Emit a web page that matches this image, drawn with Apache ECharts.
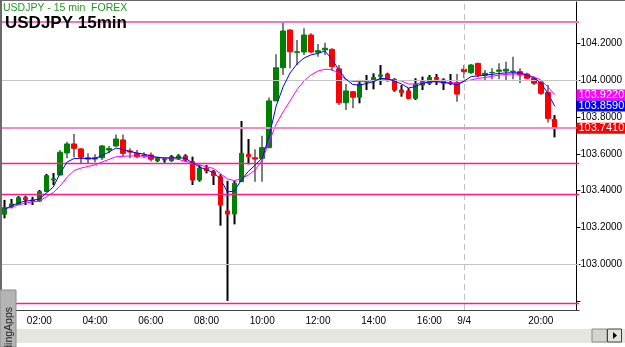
<!DOCTYPE html>
<html><head><meta charset="utf-8">
<script src="https://cdn.jsdelivr.net/npm/echarts@6/dist/echarts.min.js"></script>
<style>html,body{margin:0;padding:0;background:#fff}#c{width:625px;height:347px}</style>
</head><body><div id="c"></div>
<script>
// 15-minute bars, 00:45 .. 21:15 (the 17:15 slot carries the day-break label "9/4")
const categories = ['00:45','01:00','01:15','01:30','01:45','02:00','02:15','02:30','02:45','03:00','03:15','03:30','03:45','04:00','04:15','04:30','04:45','05:00','05:15','05:30','05:45','06:00','06:15','06:30','06:45','07:00','07:15','07:30','07:45','08:00','08:15','08:30','08:45','09:00','09:15','09:30','09:45','10:00','10:15','10:30','10:45','11:00','11:15','11:30','11:45','12:00','12:15','12:30','12:45','13:00','13:15','13:30','13:45','14:00','14:15','14:30','14:45','15:00','15:15','15:30','15:45','16:00','16:15','16:30','16:45','17:00','9/4','17:30','17:45','18:00','18:15','18:30','18:45','19:00','19:15','19:30','19:45','20:00','20:15','20:30','20:45','21:00','21:15'];
const labelTimes = ['02:00','04:00','06:00','08:00','10:00','12:00','14:00','16:00','9/4','20:00'];
const tickTimes = ['02:00','04:00','06:00','08:00','10:00','12:00','14:00','16:00','18:00','20:00'];

const opens = [103.272,103.311,103.326,103.362,103.350,103.344,103.395,103.458,103.485,103.605,103.654,103.627,103.579,103.572,103.579,103.621,103.643,103.676,103.616,103.603,103.594,103.594,103.563,103.567,103.563,103.576,103.589,103.558,103.458,103.522,103.503,103.476,103.290,103.273,103.449,103.598,103.579,103.576,103.634,103.888,104.068,104.273,104.152,104.154,104.246,104.152,104.165,104.168,104.062,103.878,103.938,103.908,103.991,103.996,104.022,104.034,104.005,103.947,103.942,103.902,103.974,103.984,104.016,104.002,103.987,103.987,104.060,104.041,104.092,104.027,104.041,104.049,104.050,104.047,104.047,104.034,104.011,103.989,103.933,103.788];
const closes = [103.308,103.328,103.362,103.351,103.344,103.395,103.482,103.464,103.609,103.654,103.630,103.582,103.572,103.579,103.643,103.629,103.681,103.603,103.610,103.585,103.591,103.571,103.576,103.570,103.585,103.589,103.567,103.458,103.522,103.509,103.482,103.322,103.273,103.440,103.603,103.585,103.572,103.634,103.888,104.068,104.268,104.155,104.155,104.246,104.154,104.161,104.174,104.074,103.878,103.942,103.908,103.980,103.996,104.016,104.029,104.005,103.947,103.933,103.902,103.978,103.993,104.016,104.005,103.984,103.984,103.925,104.047,104.083,104.029,104.038,104.043,104.056,104.060,104.050,104.029,104.011,103.984,103.929,103.793,103.741];
const lows = [103.250,103.304,103.322,103.322,103.322,103.340,103.395,103.431,103.485,103.576,103.582,103.549,103.549,103.554,103.567,103.603,103.639,103.585,103.576,103.576,103.576,103.558,103.556,103.552,103.558,103.567,103.558,103.431,103.449,103.494,103.431,103.210,102.801,103.217,103.449,103.543,103.449,103.449,103.630,103.888,104.029,104.065,104.083,104.138,104.147,104.128,104.138,104.050,103.866,103.839,103.848,103.875,103.947,103.951,103.974,103.993,103.938,103.911,103.897,103.893,103.947,103.974,103.974,103.947,103.974,103.884,104.011,104.034,104.016,104.002,104.005,104.005,104.002,104.005,103.984,104.005,103.974,103.920,103.770,103.690];
const highs = [103.350,103.355,103.371,103.373,103.367,103.404,103.491,103.496,103.621,103.666,103.708,103.630,103.603,103.598,103.648,103.643,103.706,103.706,103.630,103.621,103.609,103.607,103.585,103.579,103.594,103.598,103.598,103.585,103.540,103.540,103.513,103.489,103.454,103.454,103.779,103.681,103.625,103.699,103.906,104.141,104.318,104.277,104.219,104.283,104.255,104.197,104.204,104.174,104.083,103.980,103.942,104.002,104.029,104.038,104.083,104.041,104.011,103.974,103.957,104.011,104.020,104.029,104.034,104.011,104.034,104.034,104.083,104.089,104.096,104.056,104.065,104.092,104.101,104.128,104.065,104.041,104.020,104.002,103.974,103.811];
const maFast = [103.300,103.317,103.333,103.344,103.347,103.355,103.387,103.420,103.496,103.556,103.575,103.576,103.574,103.575,103.591,103.610,103.632,103.624,103.613,103.605,103.599,103.589,103.580,103.578,103.578,103.580,103.575,103.551,103.529,103.513,103.499,103.464,103.393,103.398,103.458,103.504,103.540,103.578,103.697,103.860,103.964,104.040,104.089,104.121,104.138,104.146,104.159,104.116,104.056,104.007,103.977,103.974,103.983,103.993,104.011,104.007,103.996,103.980,103.958,103.966,103.983,103.991,103.993,103.988,103.984,103.974,103.996,104.021,104.023,104.029,104.032,104.037,104.040,104.041,104.040,104.029,104.012,103.985,103.931,103.859];
const maSlow = [103.300,103.311,103.322,103.333,103.339,103.344,103.366,103.390,103.426,103.474,103.510,103.523,103.532,103.540,103.556,103.570,103.584,103.587,103.589,103.589,103.587,103.585,103.580,103.578,103.576,103.570,103.559,103.551,103.540,103.530,103.521,103.493,103.464,103.455,103.464,103.485,103.513,103.567,103.665,103.762,103.828,103.888,103.950,103.996,104.029,104.050,104.060,104.059,104.034,104.004,103.994,103.993,103.993,103.999,104.006,104.005,104.002,103.996,103.980,103.980,103.988,103.991,103.993,103.991,103.987,103.984,103.994,104.002,104.010,104.015,104.022,104.028,104.032,104.034,104.034,104.030,104.018,104.002,103.964,103.922];

const levelLines = [104.317, 103.741, 103.552, 103.380, 102.791];
const gridValues = [104.0, 103.0];
const yLabelValues = [103.0, 103.2, 103.4, 103.6, 103.8, 104.0, 104.2];
const yTickValues = [102.8, 103.0, 103.2, 103.4, 103.6, 103.8, 104.0, 104.2];
const tagValues = [103.922, 103.859, 103.741];
const dayBreak = '9/4';

const levelColors = ['#f27ab9', '#f48cc4', '#ff1a8c', '#ff1a8c', '#ff1a8c'];
const levelWidths = [2, 2, 1.3, 1.3, 1.3];
const tagColors = ['#ff00ff', '#0000ff', '#ff0000'];
const FONT = '"Liberation Sans", Arial, sans-serif';

const bodyData = opens.map((o, k) => [o, closes[k], Math.min(o, closes[k]), Math.max(o, closes[k])]);
const wickData = opens.map((o, k) => [lows[k], highs[k], lows[k], highs[k]]);

const chart = echarts.init(document.getElementById('c'));
chart.setOption({
  animation: false,
  backgroundColor: '#ffffff',
  textStyle: {fontFamily: FONT},
  grid: {left: 1.02, top: 2, width: 578.1, height: 308, outerBoundsMode: 'none', containLabel: false},
  xAxis: {
    type: 'category', data: categories, boundaryGap: true,
    axisLine: {lineStyle: {color: '#404040', width: 1}},
    axisTick: {alignWithLabel: true, length: 3, interval: (i, v) => tickTimes.includes(v), lineStyle: {color: '#000'}},
    axisLabel: {interval: (i, v) => labelTimes.includes(v), fontSize: 10, color: '#000', margin: 6, fontFamily: FONT},
    splitLine: {show: false}
  },
  yAxis: {
    type: 'value', position: 'right', min: 102.7516, max: 104.4255, offset: -2.7,
    axisLine: {show: true, lineStyle: {color: '#000'}},
    axisTick: {show: true, customValues: yTickValues, length: 4, lineStyle: {color: '#000'}},
    axisLabel: {customValues: yLabelValues, formatter: v => v.toFixed(4), fontSize: 10, color: '#000', margin: 4, fontFamily: FONT},
    splitLine: {show: false}
  },
  series: [
    {
      type: 'line', data: [], z: 1, silent: true,
      markLine: {
        silent: true, symbol: 'none', animation: false, label: {show: false},
        data: [
          ...gridValues.map(v => ({yAxis: v, lineStyle: {color: '#c4c4c4', width: 1, type: 'solid'}})),
          {xAxis: dayBreak, lineStyle: {color: '#c0c0c0', width: 1, type: [6, 4]}}
        ]
      }
    },
    {
      type: 'line', data: [], z: 1, silent: true,
      markLine: {
        silent: true, symbol: 'none', animation: false, label: {show: false},
        data: levelLines.map((v, k) => ({yAxis: v, lineStyle: {color: levelColors[k], width: levelWidths[k], type: 'solid', opacity: 1}}))
      }
    },
    {
      type: 'candlestick', data: wickData, barWidth: 2, z: 2, silent: true,
      itemStyle: {color: '#000', color0: '#000', borderColor: '#000', borderColor0: '#000', borderWidth: 0}
    },
    {
      type: 'candlestick', data: bodyData, barWidth: 5, z: 3, silent: true,
      itemStyle: {color: '#008000', color0: '#ff0000', borderColor: '#008000', borderColor0: '#ff0000', borderWidth: 1}
    },
    {type: 'line', data: maSlow, symbol: 'none', z: 4, silent: true, lineStyle: {color: '#ff00ff', width: 1}},
    {type: 'line', data: maFast, symbol: 'none', z: 5, silent: true, lineStyle: {color: '#0000ff', width: 1}},
    {
      type: 'line', data: [], z: 10, silent: true, clip: false,
      markLine: {
        silent: true, symbol: 'none', animation: false,
        data: tagValues.map((v, k) => ({
          yAxis: v, lineStyle: {color: 'rgba(0,0,0,0)', width: 1},
          label: {show: true, position: 'end', distance: -2.7, formatter: v.toFixed(4),
                  backgroundColor: tagColors[k], color: '#fff', fontSize: 11, fontFamily: FONT,
                  padding: [1, 4, 0, 2], lineHeight: 10}
        }))
      }
    }
  ],
  graphic: [
    {type: 'rect', z: 100, shape: {x: 0, y: 0, width: 625, height: 1}, style: {fill: '#6a6a6a'}},
    {type: 'rect', z: 100, shape: {x: 0, y: 0, width: 2, height: 347}, style: {fill: '#6a6a6a'}},
    {type: 'text', z: 100, x: 3, y: 3, style: {text: 'USDJPY - 15 min  FOREX', fill: '#229922', fontSize: 10.5, fontFamily: FONT, verticalAlign: 'top'}},
    {type: 'text', z: 100, x: 5, y: 14.5, style: {text: 'USDJPY 15min', fill: '#000', fontSize: 17, fontWeight: 'bold', fontFamily: FONT, verticalAlign: 'top'}},
    {type: 'rect', z: 100, shape: {x: 2, y: 329, width: 623, height: 14}, style: {fill: '#e7e5e0'}},
    {type: 'rect', z: 101, shape: {x: 592, y: 329, width: 15, height: 13}, style: {fill: '#d6d3ce', stroke: '#8a8a8a', lineWidth: 1}},
    {type: 'rect', z: 101, shape: {x: 607.5, y: 329, width: 14, height: 13}, style: {fill: '#e4e2dd', stroke: '#404040', lineWidth: 1}},
    {type: 'polygon', z: 102, shape: {points: [[613, 332], [613, 339], [617, 335.5]]}, style: {fill: '#000'}},
    {type: 'rect', z: 103, shape: {x: 0, y: 290, width: 16, height: 57}, style: {fill: '#b4b4b4', stroke: '#8c8c8c', lineWidth: 1}},
    {type: 'text', z: 104, x: 9, y: 307, rotation: Math.PI / 2,
     style: {text: 'TradingApps', fill: '#222', fontSize: 10.5, fontFamily: FONT, align: 'right', verticalAlign: 'middle'}}
  ]
});
</script>
</body></html>
